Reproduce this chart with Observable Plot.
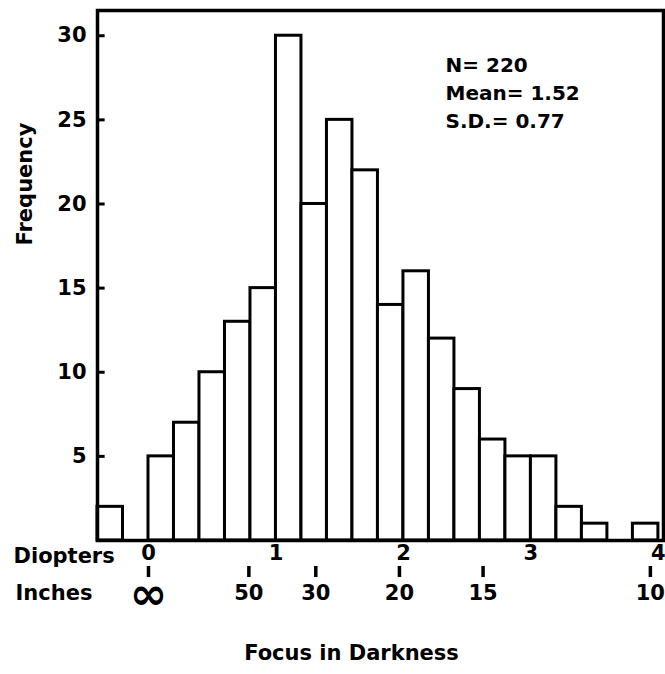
<!DOCTYPE html>
<html>
<head>
<meta charset="utf-8">
<script src="https://cdn.jsdelivr.net/npm/d3@7"></script>
<script src="https://cdn.jsdelivr.net/npm/@observablehq/plot@0.6"></script>
<style>
  html, body { margin: 0; padding: 0; background: white; }
</style>
</head>
<body>
<div id="chart"></div>
<script>
// Histogram bins (diopters), lower edges, width 0.2
const binStarts = [-0.4, -0.2, 0.0, 0.2, 0.4, 0.6, 0.8, 1.0, 1.2, 1.4, 1.6, 1.8, 2.0, 2.2, 2.4, 2.6, 2.8, 3.0, 3.2, 3.4, 3.6, 3.8];
const counts    = [2,    0,    5,   7,   10,  13,  15,  30,  20,  25,  22,  14,  16,  12,  9,   6,   5,   5,   2,   1,   0,   1];
const binWidth = 0.2;

const yTicks = [5, 10, 15, 20, 25, 30];
const diopterTicks = [0, 1, 2, 3, 4];
const inchValues = [Infinity, 50, 30, 20, 15, 10];
const inchLabels = ["∞", "50", "30", "20", "15", "10"];
const statsLines = ["N= 220", "Mean= 1.52", "S.D.= 0.77"];

const bins = binStarts
  .map((s, i) => ({x1: s, x2: s + binWidth, count: counts[i]}))
  .filter(d => d.count > 0);

const inches = inchValues.map((v, i) => ({d: 39.37 / v, label: inchLabels[i]}));

const xDomain = [-0.4, 4.04];
const tickLen = 0.06; // inward y tick length, in diopter units

const chart = Plot.plot({
  width: 665,
  height: 674,
  marginLeft: 97,
  marginRight: 2,
  marginTop: 10,
  marginBottom: 134,
  style: {fontFamily: "DejaVu Sans", fontSize: "21px", fontWeight: "bold", color: "black", background: "white"},
  x: {domain: xDomain},
  y: {domain: [0, 31.5]},
  marks: [
    Plot.rectY(bins, {x1: "x1", x2: "x2", y1: 0, y2: "count", fill: "white", stroke: "black", strokeWidth: 3}),
    Plot.frame({stroke: "black", strokeWidth: 3.5}),
    Plot.ruleY(yTicks, {y: d => d, x1: () => xDomain[0], x2: () => xDomain[0] + tickLen, stroke: "black", strokeWidth: 3}),
    Plot.axisY({ticks: yTicks, tickSize: 0, tickPadding: 11, label: null}),
    Plot.axisX({ticks: diopterTicks, tickSize: 0, tickPadding: 5, tickFormat: d => String(d), label: null}),
    Plot.axisX({ticks: inches.map(d => d.d), tickSize: 11, dy: 26, strokeWidth: 3.5, tickFormat: () => "", label: null}),
    Plot.text(inches.filter(d => d.label !== "∞"), {x: "d", text: "label", frameAnchor: "bottom", dy: 59}),
    Plot.text(inches.filter(d => d.label === "∞"), {x: "d", text: "label", frameAnchor: "bottom", dy: 68, fontSize: 45}),
    Plot.text(["Diopters"], {frameAnchor: "bottom-left", dx: -84, dy: 22, textAnchor: "start"}),
    Plot.text(["Inches"], {frameAnchor: "bottom-left", dx: -82, dy: 59, textAnchor: "start"}),
    Plot.text(["Focus in Darkness"], {frameAnchor: "bottom", dx: -29, dy: 119}),
    Plot.text(["Frequency"], {frameAnchor: "left", rotate: -90, dx: -72, dy: -30}),
    Plot.text([statsLines.join("\n")], {frameAnchor: "top-left", dx: 348, dy: 42, textAnchor: "start", lineAnchor: "top", lineHeight: 1.4, fontSize: 20})
  ]
});
document.getElementById("chart").appendChild(chart);
</script>
</body>
</html>
